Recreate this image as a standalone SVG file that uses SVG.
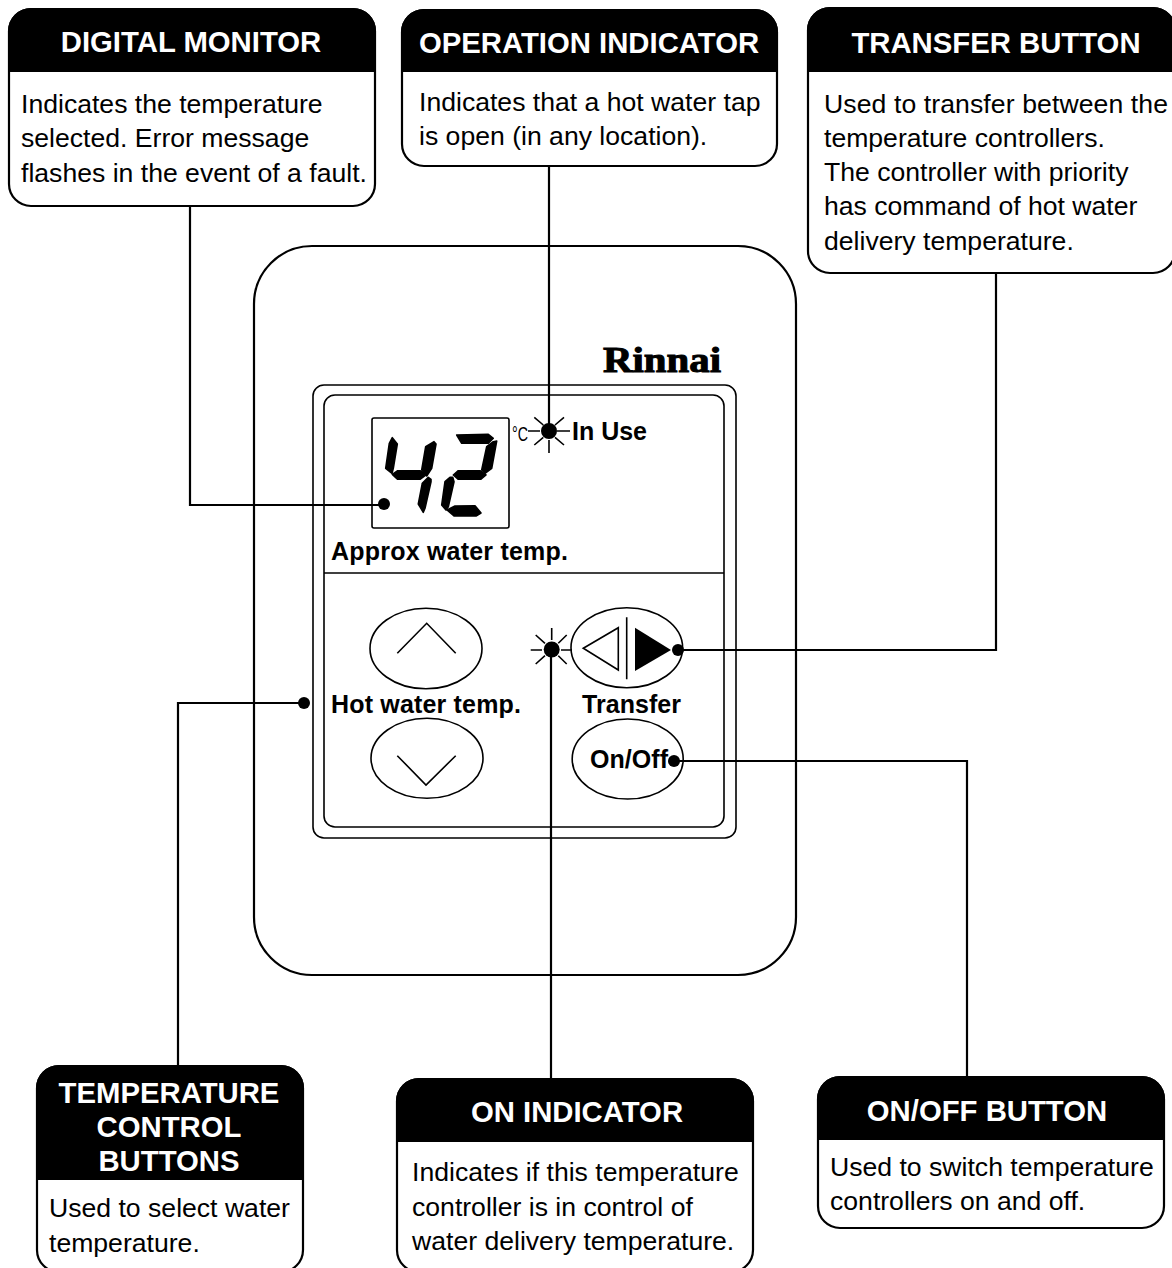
<svg xmlns="http://www.w3.org/2000/svg" width="1172" height="1268" viewBox="0 0 1172 1268">
<style>
.box{fill:#fff;stroke:#000;stroke-width:2.2}
.head{fill:#000}
.t{font-family:"Liberation Sans",Arial,sans-serif;font-size:26.6px;fill:#000}
.h{font-family:"Liberation Sans",Arial,sans-serif;font-size:29.3px;font-weight:bold;fill:#fff;text-anchor:middle}
.l{font-family:"Liberation Sans",Arial,sans-serif;font-size:25px;font-weight:bold;fill:#000}
.ln{fill:none;stroke:#000;stroke-width:2.2}
.th{fill:none;stroke:#000;stroke-width:1.6}
.seg path{stroke:#000;stroke-width:1.6;stroke-linejoin:round}
</style>
<rect width="1172" height="1268" fill="#fff"/>
<g id="panel">
<rect class="box" x="254" y="246" width="542" height="729" rx="58"/>
<rect class="th" x="313" y="385" width="423" height="453" rx="11"/>
<rect class="th" x="324" y="395" width="400" height="432" rx="11"/>
<line class="th" x1="324" y1="573" x2="724" y2="573"/>
<text x="603" y="372" style="font-family:'Liberation Serif',serif;font-size:36px;font-weight:bold" stroke="#000" stroke-width="1" textLength="118" lengthAdjust="spacingAndGlyphs">Rinnai</text>
</g>
<g id="display" class="seg">
<rect class="th" x="372" y="418" width="137" height="110" rx="2"/>
<path d="M392.3 437.7L397.3 444L393.3 468.3L392 473.3L385.7 468.3L389.3 443.3Z"/>
<path d="M434 441.7L436 444L431.7 468.3L426.7 476L421.7 470L425.7 446.7Z"/>
<path d="M397.7 470.7L420 470.7L425.7 475L420 479.3L397.7 479.3L392.3 474.3Z"/>
<path d="M431 479.3L431 481.7L425 508.3L423.3 512.3L418.3 504L422.3 483.3L428.3 477.3Z"/>
<path d="M456.7 435L488.3 434.3L493.3 438.3L488.3 443.3L461.7 443.3Z"/>
<path d="M496.7 441L491.7 468.3L485 473.3L481.7 470L486.7 446.7L493.3 441.7Z"/>
<path d="M458.3 470.7L480 470.7L486 475L480.7 479.3L458.3 479.3L453.3 475Z"/>
<path d="M452.7 477.3L454 481.7L448.3 506.7L446 510L441.7 505L445 481.7L450 477.3Z"/>
<path d="M455 506L475 505.7L481 513L476 516L454 516L447 510Z"/>
<text x="512" y="441" style="font-family:'Liberation Sans',sans-serif;font-size:21px" textLength="16" lengthAdjust="spacingAndGlyphs">°C</text>
</g>
<g id="in-use">
<path class="th" d="M528 431h12M557 431h13M549 440v13M534.3 417.3l9 7.7M564 417.3l-9 7.7M534.3 445l9-7.7M564 445l-9-7.7"/>
<circle cx="549" cy="431" r="8"/>
<text class="l" x="572" y="440" textLength="75">In Use</text>
</g>
<text class="l" x="331" y="560" textLength="237">Approx water temp.</text>
<g id="temp-buttons">
<ellipse class="th" cx="426" cy="648.5" rx="56" ry="40.3"/>
<path class="th" d="M397.3 653.3L426.7 623.3L455.7 653.3"/>
<text class="l" x="331" y="713" textLength="190">Hot water temp.</text>
<ellipse class="th" cx="427" cy="758.3" rx="56" ry="40"/>
<path class="th" d="M397.3 755.7L426 785L455.7 755.7"/>
</g>
<g id="transfer">
<ellipse class="th" cx="626.8" cy="647.7" rx="55.8" ry="40"/>
<path class="th" d="M583.3 648.3L618.3 627.7V670ZM626.7 617.3V679.3"/>
<path d="M635 627.7L671 650L635 671Z"/>
<path class="th" d="M530.7 650H542M561 650H572M551.7 628V640M535.7 635l9.3 8.3M566.7 635l-8.4 8.3M535.7 664l9.3-8.3M566.7 664l-8.4-8.3"/>
<circle cx="551.7" cy="649.5" r="8"/>
<text class="l" x="582" y="713" textLength="99">Transfer</text>
</g>
<g id="onoff">
<ellipse class="th" cx="627.7" cy="759" rx="55.5" ry="40"/>
<text class="l" x="590" y="768" textLength="78">On/Off</text>
</g>
<g id="connectors">
<path class="ln" d="M190 206V505H384"/>
<path class="ln" d="M549 166V431"/>
<path class="ln" d="M996 272V650H678"/>
<path class="ln" d="M178 1066V703H304"/>
<path class="ln" d="M551 1079V650"/>
<path class="ln" d="M967 1077V761H674"/>
<circle cx="384" cy="504" r="6"/><circle cx="304" cy="703" r="6"/><circle cx="678" cy="650" r="6"/><circle cx="674" cy="761" r="6"/>
</g>
<g id="digital-monitor">
<rect class="box" x="9" y="9" width="366" height="197" rx="22"/>
<path class="head" d="M8 72V31a23 23 0 0 1 23-23H353a23 23 0 0 1 23 23V72z"/>
<text class="h" x="191" y="52">DIGITAL MONITOR</text>
<text class="t" x="21" y="113">Indicates the temperature</text>
<text class="t" x="21" y="147">selected. Error message</text>
<text class="t" x="21" y="182">flashes in the event of a fault.</text>
</g>
<g id="operation-indicator">
<rect class="box" x="402" y="10" width="375" height="156" rx="22"/>
<path class="head" d="M401 72V32a23 23 0 0 1 23-23H755a23 23 0 0 1 23 23V72z"/>
<text class="h" x="589" y="53">OPERATION INDICATOR</text>
<text class="t" x="419" y="111">Indicates that a hot water tap</text>
<text class="t" x="419" y="145">is open (in any location).</text>
</g>
<g id="transfer-button">
<rect class="box" x="808" y="8" width="367" height="265" rx="22"/>
<path class="head" d="M807 72V30a23 23 0 0 1 23-23H1153a23 23 0 0 1 23 23V72z"/>
<text class="h" x="996" y="53">TRANSFER BUTTON</text>
<text class="t" x="824" y="113" textLength="344">Used to transfer between the</text>
<text class="t" x="824" y="147">temperature controllers.</text>
<text class="t" x="824" y="181">The controller with priority</text>
<text class="t" x="824" y="215">has command of hot water</text>
<text class="t" x="824" y="250">delivery temperature.</text>
</g>
<g id="temperature-control">
<rect class="box" x="37" y="1066" width="266" height="206" rx="22"/>
<path class="head" d="M36 1180V1088a23 23 0 0 1 23-23H281a23 23 0 0 1 23 23V1180z"/>
<text class="h" x="169" y="1103">TEMPERATURE</text>
<text class="h" x="169" y="1137">CONTROL</text>
<text class="h" x="169" y="1171">BUTTONS</text>
<text class="t" x="49" y="1217">Used to select water</text>
<text class="t" x="49" y="1252">temperature.</text>
</g>
<g id="on-indicator">
<rect class="box" x="397" y="1079" width="356" height="193" rx="22"/>
<path class="head" d="M396 1142V1101a23 23 0 0 1 23-23H731a23 23 0 0 1 23 23V1142z"/>
<text class="h" x="577" y="1122">ON INDICATOR</text>
<text class="t" x="412" y="1181">Indicates if this temperature</text>
<text class="t" x="412" y="1216">controller is in control of</text>
<text class="t" x="412" y="1250">water delivery temperature.</text>
</g>
<g id="onoff-button">
<rect class="box" x="818" y="1077" width="346" height="151" rx="22"/>
<path class="head" d="M817 1140V1099a23 23 0 0 1 23-23H1142a23 23 0 0 1 23 23V1140z"/>
<text class="h" x="987" y="1121">ON/OFF BUTTON</text>
<text class="t" x="830" y="1176">Used to switch temperature</text>
<text class="t" x="830" y="1210">controllers on and off.</text>
</g>
</svg>
